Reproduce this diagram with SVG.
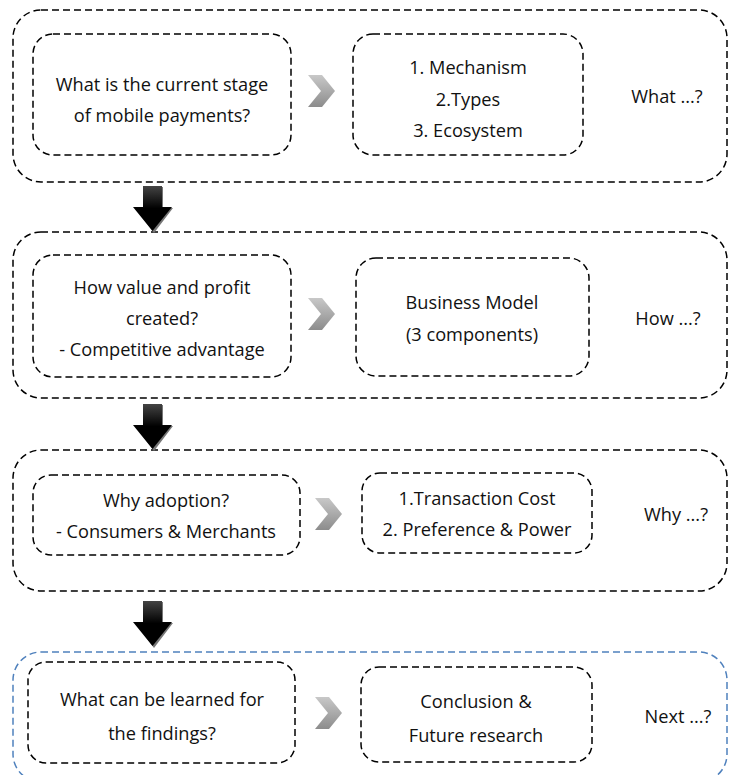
<svg xmlns="http://www.w3.org/2000/svg" width="729" height="775" viewBox="0 0 729 775">
<style>
.outer{fill:none;stroke:#000;stroke-width:1.5;stroke-dasharray:7 4}
.outerb{fill:none;stroke:#4f81bd;stroke-width:1.5;stroke-dasharray:7 4}
.box{fill:none;stroke:#000;stroke-width:1.5;stroke-dasharray:7 4}
text{font-family:"Open Sans","Noto Sans",sans-serif;font-size:18.2px;fill:#111;text-anchor:middle;dominant-baseline:central}
</style>
<defs>
<linearGradient id="chev" x1="0" y1="0" x2="0" y2="1">
<stop offset="0" stop-color="#c8c8c8"/><stop offset="1" stop-color="#8c8c8c"/>
</linearGradient>
<linearGradient id="arr" x1="0" y1="0" x2="0" y2="1">
<stop offset="0" stop-color="#444"/><stop offset="0.5" stop-color="#000"/><stop offset="1" stop-color="#000"/>
</linearGradient>
<g id="chevron"><polygon points="0,0 14,0 27,16 14,32 0,32 13,16" fill="url(#chev)"/></g>
<g id="down">
<polygon points="11,1 30,1 30,22 40,22 21,47 2,22 11,22" fill="#777"/>
<polygon points="10,0 29,0 29,21 39,21 19.5,45 0,21 10,21" fill="url(#arr)"/>
</g>
</defs>

<g id="section1">
<rect class="outer" x="13" y="10" width="714" height="172" rx="28"/>
<g id="q1"><rect class="box" x="33" y="34" width="258" height="121" rx="20"/>
<text x="162" y="84">What is the current stage</text><text x="162" y="115">of mobile payments?</text></g>
<g id="a1"><rect class="box" x="353" y="34" width="230" height="121" rx="20"/>
<text x="468" y="67">1. Mechanism</text><text x="468" y="99">2.Types</text><text x="468" y="130">3. Ecosystem</text></g>
<g id="l1"><text x="667" y="96">What ...?</text></g>
</g>

<g id="section2">
<rect class="outer" x="13" y="232" width="714" height="166" rx="28"/>
<g id="q2"><rect class="box" x="33" y="255" width="258" height="122" rx="20"/>
<text x="162" y="287">How value and profit</text><text x="162" y="318">created?</text><text x="162" y="349">- Competitive advantage</text></g>
<g id="a2"><rect class="box" x="356" y="258" width="233" height="118" rx="20"/>
<text x="472" y="302">Business Model</text><text x="472" y="334">(3 components)</text></g>
<g id="l2"><text x="668" y="318">How ...?</text></g>
</g>

<g id="section3">
<rect class="outer" x="13" y="450" width="714" height="141" rx="28"/>
<g id="q3"><rect class="box" x="33" y="475" width="267" height="80" rx="18"/>
<text x="166" y="500">Why adoption?</text><text x="166" y="531">- Consumers &amp; Merchants</text></g>
<g id="a3"><rect class="box" x="362" y="473" width="230" height="80" rx="18"/>
<text x="477" y="498">1.Transaction Cost</text><text x="477" y="529">2. Preference &amp; Power</text></g>
<g id="l3"><text x="676" y="514">Why ...?</text></g>
</g>

<g id="section4">
<rect class="outerb" x="13" y="652" width="714" height="130" rx="28"/>
<g id="q4"><rect class="box" x="28" y="662" width="267" height="101" rx="18"/>
<text x="162" y="699">What can be learned for</text><text x="162" y="733">the findings?</text></g>
<g id="a4"><rect class="box" x="361" y="667" width="231" height="95" rx="18"/>
<text x="476" y="701">Conclusion &amp;</text><text x="476" y="735">Future research</text></g>
<g id="l4"><text x="678" y="716">Next ...?</text></g>
</g>

<g id="connectors">
<use href="#chevron" x="308" y="75"/>
<use href="#chevron" x="308" y="298"/>
<use href="#chevron" x="315" y="498"/>
<use href="#chevron" x="315" y="697"/>
<use href="#down" x="133" y="186"/>
<use href="#down" x="133" y="404"/>
<use href="#down" x="133" y="601"/>
</g>
</svg>
